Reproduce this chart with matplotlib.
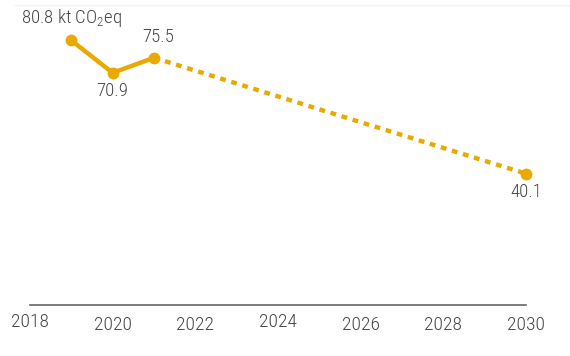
import matplotlib
matplotlib.use("Agg")
import matplotlib.pyplot as plt
import matplotlib.transforms as mtransforms
from matplotlib.lines import Line2D
from matplotlib import font_manager

# Prefer a condensed sans face where one is installed
installed = {f.name for f in font_manager.fontManager.ttflist}
candidates = ['Roboto Condensed', 'Liberation Sans Narrow', 'Open Sans Condensed',
              'Noto Sans Condensed', 'DejaVu Sans Condensed', 'Roboto']
face = next((c for c in candidates if c in installed), 'DejaVu Sans')
plt.rcParams['font.family'] = [face, 'DejaVu Sans']
plt.rcParams['font.weight'] = 'light'
plt.rcParams['mathtext.fontset'] = 'custom'
plt.rcParams['mathtext.rm'] = face + ':light'
plt.rcParams['mathtext.it'] = face + ':light'

# Emissions, actual and target
actual_years = [2019, 2020, 2021]
actual_values = [80.8, 70.9, 75.5]
target_years = [2021, 2030]
target_values = [75.5, 40.1]
tick_years = [2018, 2020, 2022, 2024, 2026, 2028, 2030]

gold = '#E9A900'
text_color = '#454545'

fig = plt.figure(figsize=(5.7, 3.56), dpi=100)
ax = fig.add_axes([30 / 570, 1 - 305 / 356, (526 - 30) / 570, (305 - 7) / 356])

ax.plot(target_years, target_values, color=gold, lw=3.2, linestyle=(0, (1.3, 1.3)),
        solid_capstyle='butt', dash_capstyle='butt', zorder=2)
ax.plot(actual_years, actual_values, color=gold, lw=3.2, solid_capstyle='round',
        solid_joinstyle='round', zorder=3)
ax.plot(actual_years + [target_years[-1]], actual_values + [target_values[-1]],
        'o', color=gold, ms=7.5, zorder=4, linestyle='none', clip_on=False)

ax.set_xlim(2018, 2030)
ax.set_ylim(0, 91)

for s in ['top', 'right', 'left']:
    ax.spines[s].set_visible(False)
ax.spines['bottom'].set_color('#666666')
ax.spines['bottom'].set_linewidth(1.2)
ax.set_yticks([])
ax.set_xticks(tick_years)
ax.set_xticklabels([str(y) for y in tick_years])
ax.tick_params(axis='x', length=0, pad=8, labelsize=14, labelcolor=text_color)

# a couple of year labels sit a little higher
raised = {2018, 2024}
for lbl, yr in zip(ax.get_xticklabels(), tick_years):
    if yr in raised:
        lbl.set_transform(lbl.get_transform() +
                          mtransforms.ScaledTranslation(0, 3 / 100, fig.dpi_scale_trans))

fs = 13.5
ax.annotate(f"{actual_values[0]} kt CO$_{{2}}$eq", (actual_years[0], actual_values[0]),
            xytext=(0, 16), textcoords='offset points', ha='center', va='center',
            fontsize=fs, color=text_color)
ax.annotate(f"{actual_values[1]}", (actual_years[1], actual_values[1]),
            xytext=(0, -13), textcoords='offset points', ha='center', va='center',
            fontsize=fs, color=text_color)
ax.annotate(f"{actual_values[2]}", (actual_years[2], actual_values[2]),
            xytext=(3, 15), textcoords='offset points', ha='center', va='center',
            fontsize=fs, color=text_color)
ax.annotate(f"{target_values[1]}", (target_years[1], target_values[1]),
            xytext=(0, -13), textcoords='offset points', ha='center', va='center',
            fontsize=fs, color=text_color)

fig.add_artist(Line2D([15 / 570, 1], [1 - 5 / 356] * 2, color='#f3f3f3', lw=1))

fig.savefig('out.png', dpi=100)
